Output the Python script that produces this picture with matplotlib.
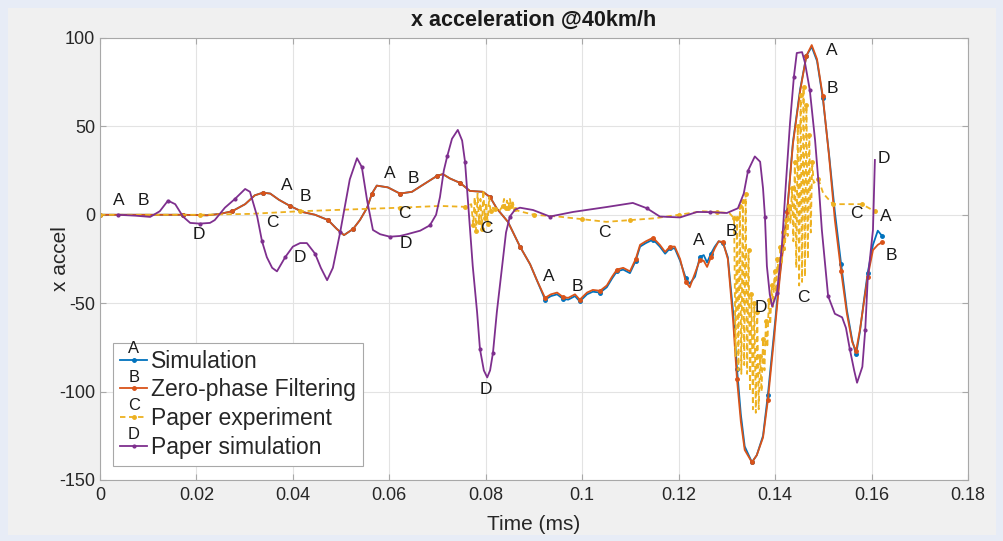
import numpy as np
import matplotlib
matplotlib.use("Agg")
import matplotlib.pyplot as plt
from matplotlib.patches import Rectangle
from matplotlib.legend_handler import HandlerLine2D
from matplotlib.text import Text

#####DATA###############################
# Simulation / Zero-phase Filtering share the time axis
filt_t = [0.0, 0.0062, 0.0120, 0.0172, 0.0222, 0.0249, 0.0274, 0.0301, 0.0321, 0.0338,
          0.0353, 0.0371, 0.0394, 0.0421, 0.0446, 0.0473, 0.0491, 0.0506, 0.0525, 0.0539,
          0.0554, 0.0564, 0.0574, 0.0597, 0.0622, 0.0647, 0.0670, 0.0699, 0.0711, 0.0726,
          0.0747, 0.0767, 0.0794, 0.0809, 0.0823, 0.0846, 0.0871, 0.0892, 0.0906, 0.0923,
          0.0935, 0.0948, 0.0960, 0.0971, 0.0985, 0.0995, 0.1010, 0.1022, 0.1037, 0.1051,
          0.1062, 0.1072, 0.1085, 0.1099, 0.1111, 0.1120, 0.1132, 0.1147, 0.1161, 0.1172,
          0.1182, 0.1192, 0.1203, 0.1215, 0.1223, 0.1234, 0.1244, 0.1252, 0.1259, 0.1267,
          0.1275, 0.1283, 0.1292, 0.1302, 0.1313, 0.1321, 0.1329, 0.1337, 0.1352, 0.1362,
          0.1375, 0.1385, 0.1396, 0.1410, 0.1425, 0.1437, 0.1452, 0.1465, 0.1476, 0.1487,
          0.1499, 0.1512, 0.1524, 0.1537, 0.1549, 0.1560, 0.1568, 0.1576, 0.1584, 0.1592,
          0.1603, 0.1613, 0.1622]
filt_v = [0, 0, 0, 0, -0.3, 0.5, 2, 6, 11, 12.5,
          12, 8.5, 5, 1.5, 0, -3, -8, -11.5, -8, -3,
          4, 12, 16.5, 15.5, 12, 13, 17, 22, 23, 20.5,
          18, 13.5, 13, 10, 3.5, -4, -18, -28, -37, -47,
          -45, -44, -46.5, -47, -45, -48, -44, -42.5, -43, -40,
          -35, -31, -30, -32, -25, -17, -15, -13, -17, -21,
          -18, -18, -25, -38, -41, -33, -25.6, -26, -29.5, -24,
          -19, -15, -15.4, -25, -60, -93, -117, -133, -140, -136,
          -126, -105, -75, -35, 1.5, 40, 70, 90, 96, 88,
          67, 33, -3, -32, -56, -72, -77, -65, -50, -35,
          -20, -17, -15.5]
sim_v = [0, 0, 0, 0, -0.3, 0.5, 2, 6, 11, 12.5,
         12, 8.5, 5, 1.5, 0, -3, -8, -11.5, -8, -3,
         4, 12, 16.5, 15.5, 12, 13, 17, 22, 23, 20.5,
         18, 13.5, 13, 10, 3.5, -4, -18, -28, -37, -48,
         -46, -45, -47.5, -48, -46, -49, -45, -43.5, -44, -41,
         -36, -32, -31, -33, -26, -18, -16, -14, -18, -22,
         -19, -19, -26, -36, -39, -35, -24, -22.8, -27, -22,
         -18, -15, -16, -24, -55, -87, -113, -131, -140, -136,
         -125, -102, -72, -33, 2, 41, 71, 90, 95, 87,
         66, 34, 1.5, -28, -54, -71, -79, -66, -49, -33,
         -17, -9, -12]

exp_t = [0.0, 0.0104, 0.0207, 0.0311, 0.0415, 0.0518, 0.0622, 0.0705, 0.0757,
         0.0770, 0.0774, 0.0777, 0.0780, 0.0783, 0.0786, 0.0789, 0.0792, 0.0795, 0.0798,
         0.0801, 0.0804, 0.0807, 0.0810, 0.0815, 0.0820, 0.0828, 0.0835, 0.0838, 0.0841,
         0.0844, 0.0847, 0.0850, 0.0853, 0.0856, 0.0860, 0.0870,
         0.0900, 0.0950, 0.1000, 0.1050, 0.1100, 0.1150, 0.1200, 0.1250, 0.1280, 0.1305,
         0.1315, 0.1318, 0.1321, 0.1324, 0.1327, 0.1330, 0.1333, 0.1336, 0.1339, 0.1342,
         0.1345, 0.1348, 0.1351, 0.1354, 0.1357, 0.1360, 0.1363, 0.1366, 0.1369, 0.1372,
         0.1375, 0.1378, 0.1381, 0.1384, 0.1387, 0.1390, 0.1393, 0.1396, 0.1399, 0.1402,
         0.1405, 0.1408, 0.1411, 0.1414, 0.1417, 0.1420, 0.1423, 0.1426, 0.1429, 0.1432,
         0.1435, 0.1438, 0.1441, 0.1444, 0.1447, 0.1450, 0.1453, 0.1456, 0.1459, 0.1462,
         0.1465, 0.1468, 0.1471, 0.1474, 0.1477, 0.1480, 0.1490, 0.1500, 0.1520, 0.1550,
         0.1580, 0.1600, 0.1607]
exp_v = [0, 0, 0, 0.5, 2, 3, 4, 5, 4.5,
         6, -6, 10, -9, 12, -4, 9, -8, 14, -2,
         7, -5, 10, 2, 4, 3, 2, 5, 9, 4,
         8, 4, 9, 5, 7, 3, 2,
         0, -1, -2.5, -4, -3, -2, 0, 2, 1.5, 1,
         -2, -80, -2, -88, 5, -90, 8, -85, 12, -90,
         -20, -100, -45, -110, -50, -112, -55, -110, -80, -100,
         -70, -88, -60, -75, -48, -62, -40, -52, -32, -44,
         -25, -35, -18, -28, -10, -20, -3, -12, 5, -5,
         15, -15, 30, -30, 50, -40, 68, -38, 72, -35,
         62, -25, 45, -10, 30, 18, 20, 12, 6, 6,
         6, 3, 2]

psim_t = [0.0037, 0.0073, 0.0104, 0.0124, 0.0141, 0.0156, 0.0172, 0.0187, 0.0207, 0.0228,
          0.0238, 0.0259, 0.0280, 0.0301, 0.0311, 0.0326, 0.0336, 0.0346, 0.0357, 0.0367,
          0.0384, 0.0400, 0.0415, 0.0429, 0.0446, 0.0458, 0.0471, 0.0483, 0.0498, 0.0508,
          0.0518, 0.0533, 0.0543, 0.0554, 0.0566, 0.0581, 0.0601, 0.0622, 0.0637, 0.0664,
          0.0684, 0.0697, 0.0705, 0.0713, 0.0720, 0.0730, 0.0742, 0.0751, 0.0757, 0.0763,
          0.0773, 0.0782, 0.0788, 0.0796, 0.0803, 0.0809, 0.0815, 0.0823, 0.0834, 0.0842,
          0.0850, 0.0861, 0.0871, 0.0898, 0.0933, 0.0981, 0.1051, 0.1105, 0.1134, 0.1161,
          0.1203, 0.1238, 0.1265, 0.1300, 0.1323, 0.1335, 0.1344, 0.1358, 0.1369, 0.1375,
          0.1379, 0.1383, 0.1389, 0.1394, 0.1404, 0.1414, 0.1423, 0.1431, 0.1439, 0.1445,
          0.1456, 0.1462, 0.1472, 0.1483, 0.1491, 0.1497, 0.1510, 0.1524, 0.1539, 0.1547,
          0.1555, 0.1564, 0.1570, 0.1581, 0.1587, 0.1592, 0.1603, 0.1607]
psim_v = [0, -0.5, -1.2, 2, 8, 6, -1, -4.6, -5, -4.6,
          -3, 4, 9, 14.6, 13, -1, -15, -24, -30, -32,
          -24, -18, -16, -16, -22, -30, -37, -30, -10, 5,
          20, 32, 27, 8, -8.6, -11, -12.4, -12, -11, -9,
          -6, 0, 10, 25, 33, 43, 48, 42, 30, 8,
          -29, -55, -76, -88, -92, -88, -78, -55, -29, -10,
          -1, 3, 4, 2.7, -1, 1.6, 4.4, 6.7, 3.7, -1,
          -1.5, 1.6, 1.5, 1, 3.7, 12, 25, 33, 30, 15,
          -1, -29, -45, -52, -44, -18, 20, 52, 78, 91.5,
          92, 86, 70.6, 42, 15, -8.6, -46, -56, -58, -64,
          -76, -88, -95, -86, -65, -37, -8.6, 31]

series_names = ['Simulation', 'Zero-phase Filtering', 'Paper experiment', 'Paper simulation']
series_letters = ['A', 'B', 'C', 'D']

# letter annotations (data coords)
label_A_t = [0.0039, 0.0388, 0.0601, 0.0931, 0.1242, 0.1518, 0.1630]
label_A_v = [7.8, 16.3, 23.1, -34.8, -14.6, 93.2, -0.7]
label_B_t = [0.0089, 0.0425, 0.0649, 0.0991, 0.1310, 0.1518, 0.1642]
label_B_v = [7.8, 10.1, 20.3, -40.5, -9.2, 71.7, -23.2]
label_C_t = [0.0357, 0.0632, 0.0802, 0.1045, 0.1458, 0.1568]
label_C_v = [-4.6, 0.5, -8.0, -9.8, -46.8, 1.0]
label_D_t = [0.0205, 0.0415, 0.0634, 0.0800, 0.1370, 0.1626]
label_D_v = [-11.4, -24.2, -16.3, -99.0, -52.2, 32.1]

x_ticks = [0, 0.02, 0.04, 0.06, 0.08, 0.1, 0.12, 0.14, 0.16, 0.18]
x_ticklabels = ['0', '0.02', '0.04', '0.06', '0.08', '0.1', '0.12', '0.14', '0.16', '0.18']
y_ticks = [-150, -100, -50, 0, 50, 100]

#####STYLE#######
C_BLUE = '#0072BD'
C_ORANGE = '#D95319'
C_YELLOW = '#EDB120'
C_PURPLE = '#7E2F8E'
plt.rcParams['font.family'] = ['Liberation Sans', 'DejaVu Sans']
plt.rcParams['axes.unicode_minus'] = False


class LetterHandler(HandlerLine2D):
    # legend handle: line sample with a small letter above it
    def __init__(self, letter, **kw):
        super().__init__(**kw)
        self.letter = letter

    def create_artists(self, legend, orig_handle, xdescent, ydescent, width, height, fontsize, trans):
        arts = super().create_artists(legend, orig_handle, xdescent, ydescent, width, height, fontsize, trans)
        t = Text(width / 2 - xdescent, height / 2 - ydescent + 0.5 * fontsize, self.letter,
                 ha='center', va='center', fontsize=fontsize * 0.72, color='#1a1a1a',
                 transform=trans)
        return arts + [t]


fig = plt.figure(figsize=(10.04, 5.41), dpi=100)
fig.patch.set_facecolor('#e7ecf6')
fig.patches.append(Rectangle((0.008, 0.011), 0.984, 0.975, transform=fig.transFigure,
                             facecolor='#f0f0f0', edgecolor='none', zorder=-5))
ax = fig.add_axes([0.0996, 0.1128, 0.8645, 0.817])

l1, = ax.plot(filt_t, sim_v, '-', color=C_BLUE, lw=1.3, marker='.', ms=5, markevery=3)
l2, = ax.plot(filt_t, filt_v, '-', color=C_ORANGE, lw=1.3, marker='.', ms=5, markevery=3)
l3, = ax.plot(exp_t, exp_v, linestyle=(0, (3, 2)), color=C_YELLOW, lw=1.3, marker='.', ms=5, markevery=2)
l4, = ax.plot(psim_t, psim_v, '-', color=C_PURPLE, lw=1.3, marker='.', ms=4, markevery=4)

lab_kw = dict(fontsize=12.5, color='#1a1a1a', ha='center', va='center')
for tt, vv, let in [(label_A_t, label_A_v, 'A'), (label_B_t, label_B_v, 'B'),
                    (label_C_t, label_C_v, 'C'), (label_D_t, label_D_v, 'D')]:
    for a, b in zip(tt, vv):
        ax.text(a, b, let, **lab_kw)

ax.set_xlim(0, 0.18)
ax.set_ylim(-150, 100)
ax.set_xticks(x_ticks)
ax.set_xticklabels(x_ticklabels)
ax.set_yticks(y_ticks)
ax.grid(True, color='#e3e3e3', lw=0.8)
ax.set_axisbelow(True)
for s in ax.spines.values():
    s.set_color('#a8a8a8')
    s.set_linewidth(0.8)
ax.tick_params(direction='in', length=4, width=0.8, color='#a8a8a8', top=True, right=True,
               labelcolor='#262626', labelsize=13)
ax.tick_params(axis='x', pad=5)

ax.set_title('x acceleration @40km/h', fontsize=15.5, fontweight='bold', color='#1a1a1a', pad=9)
ax.set_xlabel('Time (ms)', fontsize=15, color='#262626', labelpad=8)
ax.set_ylabel('x accel', fontsize=15, color='#262626')
ax.yaxis.set_label_coords(-0.035, 0.5)

leg = ax.legend([l1, l2, l3, l4], series_names, loc='lower left',
                bbox_to_anchor=(0.015, 0.032), borderaxespad=0, fontsize=16.5,
                handlelength=1.2, handletextpad=0.15, labelspacing=0.25,
                borderpad=0.3, fancybox=False, framealpha=1,
                handler_map={l1: LetterHandler('A'), l2: LetterHandler('B'),
                             l3: LetterHandler('C'), l4: LetterHandler('D')})
leg.get_frame().set_edgecolor('#a8a8a8')
leg.get_frame().set_linewidth(0.8)
for t in leg.get_texts():
    t.set_color('#262626')

plt.savefig('out.png', dpi=100, facecolor=fig.get_facecolor())
